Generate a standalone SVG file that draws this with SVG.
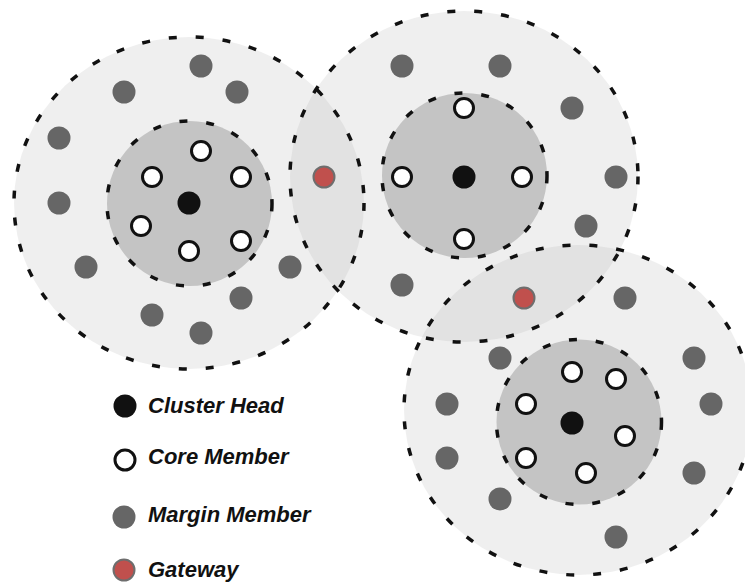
<svg xmlns="http://www.w3.org/2000/svg" width="745" height="584" viewBox="0 0 745 584">
  <style>
    .zone { fill: #ababab; fill-opacity: 0.19; stroke: none; }
    .core-zone { fill: #c4c4c4; stroke: none; }
    .ring { fill: none; stroke: #111; stroke-width: 3.5; stroke-dasharray: 8 19; }
    .head { fill: #111; }
    .core { fill: #fff; stroke: #111; stroke-width: 3; }
    .margin { fill: #666; }
    .gateway { fill: #c0504d; stroke: #6e6e6e; stroke-width: 2; }
    .label { font-family: "Liberation Sans", Arial, sans-serif; font-size: 22px; font-weight: bold; font-style: italic; fill: #111; }
  </style>

  <!-- cluster areas: translucent outer fills so overlaps darken -->
  <g id="areas">
    <ellipse class="zone" cx="189" cy="203" rx="175" ry="166"/>
    <ellipse class="zone" cx="464" cy="176.5" rx="174" ry="165.5"/>
    <ellipse class="zone" cx="578" cy="410" rx="174" ry="165"/>
    <circle class="core-zone" cx="189.5" cy="203.5" r="82.5"/>
    <circle class="core-zone" cx="464.5" cy="175.5" r="82.5"/>
    <circle class="core-zone" cx="579" cy="422" r="82.5"/>
  </g>

  <!-- dashed range boundaries -->
  <g id="boundaries">
    <ellipse class="ring" cx="189" cy="203" rx="175" ry="166"/>
    <ellipse class="ring" cx="464" cy="176.5" rx="174" ry="165.5"/>
    <ellipse class="ring" cx="578" cy="410" rx="174" ry="165"/>
    <circle class="ring" cx="189.5" cy="203.5" r="82.5"/>
    <circle class="ring" cx="464.5" cy="175.5" r="82.5"/>
    <circle class="ring" cx="579" cy="422" r="82.5"/>
  </g>

  <g id="connectors"/>

  <!-- cluster 1 -->
  <g id="cluster1">
    <g id="c1-head"><circle class="head" cx="189" cy="203" r="11.5"/></g>
    <g id="c1-core">
      <circle class="core" cx="201" cy="151" r="9.5"/>
      <circle class="core" cx="152" cy="177" r="9.5"/>
      <circle class="core" cx="241" cy="177" r="9.5"/>
      <circle class="core" cx="141" cy="226" r="9.5"/>
      <circle class="core" cx="189" cy="251" r="9.5"/>
      <circle class="core" cx="241" cy="241" r="9.5"/>
    </g>
    <g id="c1-margin">
      <circle class="margin" cx="201" cy="66" r="11.5"/>
      <circle class="margin" cx="124" cy="92" r="11.5"/>
      <circle class="margin" cx="237" cy="92" r="11.5"/>
      <circle class="margin" cx="59" cy="138" r="11.5"/>
      <circle class="margin" cx="59" cy="203" r="11.5"/>
      <circle class="margin" cx="86" cy="267" r="11.5"/>
      <circle class="margin" cx="290" cy="267" r="11.5"/>
      <circle class="margin" cx="241" cy="298" r="11.5"/>
      <circle class="margin" cx="152" cy="315" r="11.5"/>
      <circle class="margin" cx="201" cy="333" r="11.5"/>
    </g>
  </g>

  <!-- cluster 2 -->
  <g id="cluster2">
    <g id="c2-head"><circle class="head" cx="464" cy="177" r="11.5"/></g>
    <g id="c2-core">
      <circle class="core" cx="464" cy="108" r="9.5"/>
      <circle class="core" cx="402" cy="177" r="9.5"/>
      <circle class="core" cx="522" cy="177" r="9.5"/>
      <circle class="core" cx="464" cy="239" r="9.5"/>
    </g>
    <g id="c2-margin">
      <circle class="margin" cx="402" cy="66" r="11.5"/>
      <circle class="margin" cx="500" cy="66" r="11.5"/>
      <circle class="margin" cx="572" cy="108" r="11.5"/>
      <circle class="margin" cx="616" cy="177" r="11.5"/>
      <circle class="margin" cx="586" cy="226" r="11.5"/>
      <circle class="margin" cx="402" cy="285" r="11.5"/>
    </g>
  </g>

  <!-- cluster 3 -->
  <g id="cluster3">
    <g id="c3-head"><circle class="head" cx="572" cy="423" r="11.5"/></g>
    <g id="c3-core">
      <circle class="core" cx="572" cy="372" r="9.5"/>
      <circle class="core" cx="616" cy="379" r="9.5"/>
      <circle class="core" cx="526" cy="404" r="9.5"/>
      <circle class="core" cx="625" cy="436" r="9.5"/>
      <circle class="core" cx="526" cy="458" r="9.5"/>
      <circle class="core" cx="586" cy="473" r="9.5"/>
    </g>
    <g id="c3-margin">
      <circle class="margin" cx="625" cy="298" r="11.5"/>
      <circle class="margin" cx="500" cy="358" r="11.5"/>
      <circle class="margin" cx="694" cy="358" r="11.5"/>
      <circle class="margin" cx="447" cy="404" r="11.5"/>
      <circle class="margin" cx="711" cy="404" r="11.5"/>
      <circle class="margin" cx="447" cy="458" r="11.5"/>
      <circle class="margin" cx="694" cy="473" r="11.5"/>
      <circle class="margin" cx="500" cy="499" r="11.5"/>
      <circle class="margin" cx="616" cy="537" r="11.5"/>
    </g>
  </g>

  <!-- gateways in the overlap regions -->
  <g id="gateway-12"><circle class="gateway" cx="324" cy="177" r="10.5"/></g>
  <g id="gateway-23"><circle class="gateway" cx="524" cy="298" r="10.5"/></g>

  <!-- legend -->
  <g id="legend">
    <g id="legend-head">
      <circle class="head" cx="125" cy="406" r="11.5"/>
      <text class="label" x="148" y="413">Cluster Head</text>
    </g>
    <g id="legend-core">
      <circle class="core" cx="125" cy="460" r="10"/>
      <text class="label" x="148" y="464">Core Member</text>
    </g>
    <g id="legend-margin">
      <circle class="margin" cx="124" cy="517" r="11.5"/>
      <text class="label" x="148" y="522">Margin Member</text>
    </g>
    <g id="legend-gateway">
      <circle class="gateway" cx="124" cy="570" r="10.5"/>
      <text class="label" x="148" y="577">Gateway</text>
    </g>
  </g>
</svg>
